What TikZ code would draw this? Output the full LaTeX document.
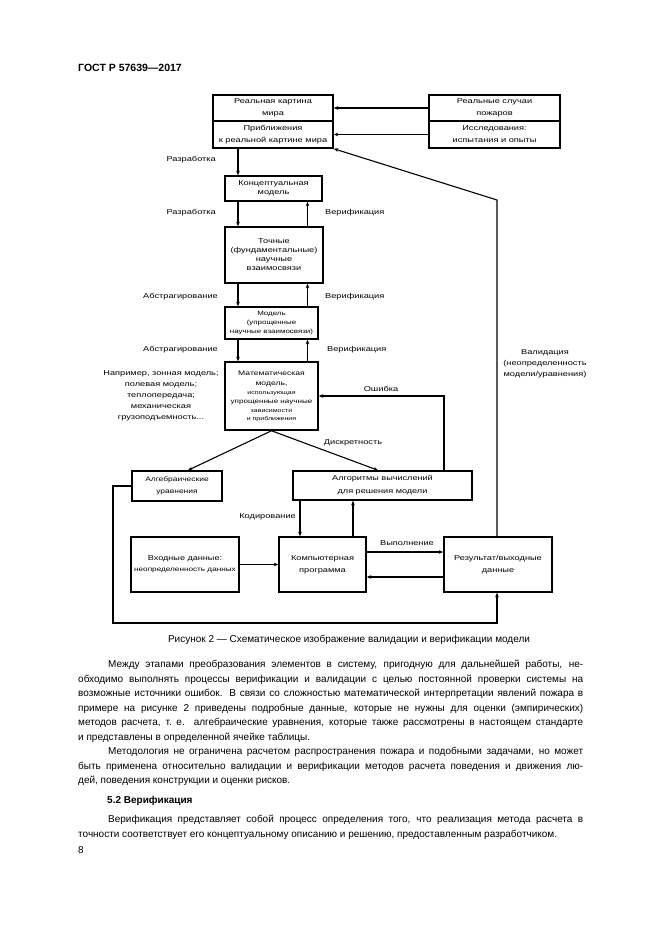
\documentclass[tikz,border=0pt]{standalone}
\usepackage{fontspec}
\setmainfont{Liberation Sans}
\newfontfamily\dfont[FakeStretch=1.3]{Liberation Sans}
\usetikzlibrary{arrows.meta}
\tikzset{
  box/.style={draw, line width=1.5pt, inner sep=1pt, align=center, font=\dfont\fontsize{7.1}{9}\selectfont},
  conn/.style={line width=1.1pt, -{Stealth[length=4.5pt,width=3.6pt]}},
  lab/.style={inner sep=0pt, align=center, font=\dfont\fontsize{7.1}{11}\selectfont},
  bodytext/.style={inner sep=0pt, anchor=north west, text width=505pt, align=justify,
    font=\fontsize{10}{14.5}\selectfont},
}
\begin{document}
\begin{tikzpicture}[x=1pt,y=-1pt]
\fill[white] (0,0) rectangle (661,935);
\useasboundingbox (0,0) rectangle (661,935);

% header
\node[anchor=west, inner sep=0pt, font=\bfseries\fontsize{10.5}{12}\selectfont] (hdr) at (78,68) {ГОСТ Р 57639—2017};

% boxes
\node[box, minimum width=120pt, minimum height=26pt] (real) at (273,108) {Реальная картина\\[3pt]мира};
\node[box, minimum width=120pt, minimum height=27pt] (approx) at (273,134.5) {Приближения\\[3pt]к реальной картине мира};
\node[box, minimum width=131pt, minimum height=26pt] (fires) at (494.5,108) {Реальные случаи\\[3pt]пожаров};
\node[box, minimum width=131pt, minimum height=27pt] (tests) at (494.5,134.5) {Исследования:\\[3pt]испытания и опыты};

\node[box, minimum width=97pt, minimum height=25pt] (concept) at (273.5,188.5) {Концептуальная\\модель};
\node[box, minimum width=98pt, minimum height=56pt] (exact) at (274,255) {Точные\\(фундаментальные)\\научные\\взаимосвязи};
\node[box, minimum width=93pt, minimum height=32pt, font=\dfont\fontsize{6.1}{9}\selectfont] (model) at (271.5,323) {Модель\\(упрощенные\\научные взаимосвязи)};
\node[box, minimum width=93pt, minimum height=68pt, font=\dfont\fontsize{6.6}{10}\selectfont] (math) at (271.5,396)
  {Математическая\\модель,\\[-1pt]{\fontsize{5.4}{9}\selectfont использующая}\\[-1pt]{\fontsize{6.2}{9}\selectfont упрощенные научные}\\[-1pt]{\fontsize{5.4}{8}\selectfont зависимости}\\[-2pt]{\fontsize{5.4}{8}\selectfont и приближения}};

\node[box, minimum width=90pt, minimum height=30pt, font=\dfont\fontsize{6.5}{12}\selectfont] (algeq) at (177,486) {Алгебраические\\уравнения};
\node[box, minimum width=179pt, minimum height=29pt, font=\dfont\fontsize{7}{13}\selectfont] (algo) at (382.5,485.5) {Алгоритмы вычислений\\для решения модели};

\node[box, minimum width=108pt, minimum height=55pt, font=\dfont\fontsize{7}{11}\selectfont] (input) at (185,564.5) {Входные данные:\\{\fontsize{6.3}{11}\selectfont неопределенность данных}};
\node[box, minimum width=87pt, minimum height=55pt, font=\dfont\fontsize{7.1}{12}\selectfont] (prog) at (322.5,564.5) {Компьютерная\\программа};
\node[box, minimum width=108pt, minimum height=55pt, font=\dfont\fontsize{7.1}{12}\selectfont] (result) at (498,564.5) {Результат/выходные\\данные};

% helper coordinates
\coordinate (xd) at (238,0);
\coordinate (xu) at (307.5,0);
\coordinate (xa) at (188,0);
\coordinate (xb) at (378,0);
\coordinate (xe) at (444,0);
\coordinate (xk) at (300,0);
\coordinate (xm) at (353,0);
\coordinate (xv) at (497,0);
\coordinate (vb) at (497,200);
\coordinate (lp) at (113,623);
\coordinate (ya) at (0,552);
\coordinate (yb) at (0,577);

% connectors
\draw[conn] (fires.west) -- (real.east);
\draw[conn] (tests.west) -- (approx.east);
\draw[conn] (approx.south -| xd) -- (concept.north -| xd);
\draw[conn] (concept.south -| xd) -- (exact.north -| xd);
\draw[conn] (exact.north -| xu) -- (concept.south -| xu);
\draw[conn] (exact.south -| xd) -- (model.north -| xd);
\draw[conn] (model.north -| xu) -- (exact.south -| xu);
\draw[conn] (model.south -| xd) -- (math.north -| xd);
\draw[conn] (math.north -| xu) -- (model.south -| xu);
\draw[conn] (math.south) -- (algeq.north -| xa);
\draw[conn] (math.south) -- (algo.north -| xb);
\draw[conn] (algo.north -| xe) |- (math.east);
\draw[conn] (algo.south -| xk) -- (prog.north -| xk);
\draw[conn] (prog.north -| xm) -- (algo.south -| xm);
\draw[conn] (input.east) -- (prog.west);
\draw[conn] (prog.east |- ya) -- (result.west |- ya);
\draw[conn] (result.west |- yb) -- (prog.east |- yb);
\draw[conn] (algeq.west) -| (lp) -| (result.south -| xv);
\draw[conn] (result.north -| xv) -- (vb) -- (approx.south east);

% labels
\node[lab, anchor=east] (l1) at (216,160) {Разработка};
\node[lab, anchor=east] (l2) at (216,213) {Разработка};
\node[lab, anchor=west] (l3) at (325,213) {Верификация};
\node[lab, anchor=east] (l4) at (218,297) {Абстрагирование};
\node[lab, anchor=west] (l5) at (325,297) {Верификация};
\node[lab, anchor=east] (l6) at (218,350) {Абстрагирование};
\node[lab, anchor=west] (l7) at (327,350) {Верификация};
\node[lab] (l8) at (161,396) {Например, зонная модель;\\полевая модель;\\теплопередача;\\механическая\\грузоподъемность...};
\node[lab] (l9) at (381,389) {Ошибка};
\node[lab] (l10) at (353,443) {Дискретность};
\node[lab, anchor=east] (l11) at (296,517) {Кодирование};
\node[lab] (l12) at (407,543) {Выполнение};
\node[lab] (l13) at (545,364) {Валидация\\(неопределенность\\модели/уравнения)};

% caption
\node[inner sep=0pt, font=\fontsize{10}{12}\selectfont] (cap) at (349,640) {Рисунок 2 — Схематическое изображение валидации и верификации модели};

% body text
\node[bodytext] (p1) at (78,657.4) {\hyphenpenalty=10000\tolerance=10000\parskip=0pt\strut\hspace*{30pt}Между этапами преобразования элементов в систему, пригодную для дальнейшей работы, не-\linebreak
обходимо выполнять процессы верификации и валидации с целью постоянной проверки системы на\linebreak
возможные источники ошибок. В связи со сложностью математической интерпретации явлений пожара в\linebreak
примере на рисунке 2 приведены подробные данные, которые не нужны для оценки (эмпирических)\linebreak
методов расчета, т.~е. алгебраические уравнения, которые также рассмотрены в настоящем стандарте\linebreak
и представлены в определенной ячейке таблицы.\par
\hspace*{30pt}Методология не ограничена расчетом распространения пожара и подобными задачами, но может\linebreak
быть применена относительно валидации и верификации методов расчета поведения и движения лю-\linebreak
дей, поведения конструкции и оценки рисков.};
\node[anchor=west, inner sep=0pt, font=\bfseries\fontsize{10}{12}\selectfont] (h52) at (107,801) {5.2 Верификация};
\node[bodytext] (p2) at (78,812.4) {\hyphenpenalty=10000\tolerance=10000\strut\hspace*{30pt}Верификация представляет собой процесс определения того, что реализация метода расчета в\linebreak
точности соответствует его концептуальному описанию и решению, предоставленным разработчиком.};
\node[anchor=west, inner sep=0pt, font=\fontsize{10}{12}\selectfont] (pg) at (78,850) {8};
\end{tikzpicture}
\end{document}
